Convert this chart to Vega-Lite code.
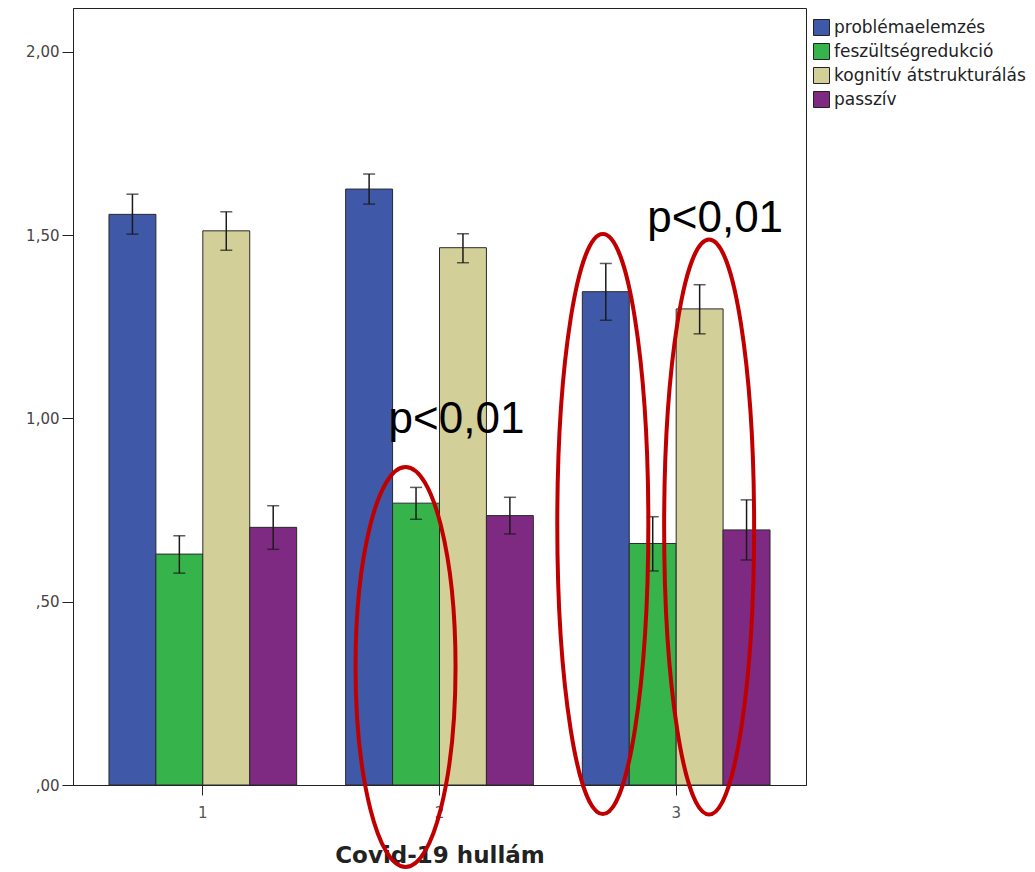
{
  "$schema": "https://vega.github.io/schema/vega-lite/v6.json",
  "width": 733,
  "height": 777,
  "autosize": {"type": "none"},
  "padding": {"left": 73, "top": 8, "right": 229, "bottom": 87},
  "background": "white",
  "config": {
    "view": {"stroke": "#222", "strokeWidth": 1},
    "font": "DejaVu Sans"
  },
  "datasets": {
    "bars": [
      {"hullam": "1", "kat": "problémaelemzés", "atlag": 1.557, "lo": 1.503, "hi": 1.612},
      {"hullam": "1", "kat": "feszültségredukció", "atlag": 0.630, "lo": 0.578, "hi": 0.680},
      {"hullam": "1", "kat": "kognitív átstrukturálás", "atlag": 1.512, "lo": 1.459, "hi": 1.564},
      {"hullam": "1", "kat": "passzív", "atlag": 0.703, "lo": 0.643, "hi": 0.762},
      {"hullam": "2", "kat": "problémaelemzés", "atlag": 1.626, "lo": 1.585, "hi": 1.667},
      {"hullam": "2", "kat": "feszültségredukció", "atlag": 0.769, "lo": 0.725, "hi": 0.812},
      {"hullam": "2", "kat": "kognitív átstrukturálás", "atlag": 1.466, "lo": 1.425, "hi": 1.504},
      {"hullam": "2", "kat": "passzív", "atlag": 0.735, "lo": 0.685, "hi": 0.785},
      {"hullam": "3", "kat": "problémaelemzés", "atlag": 1.346, "lo": 1.268, "hi": 1.423},
      {"hullam": "3", "kat": "feszültségredukció", "atlag": 0.659, "lo": 0.584, "hi": 0.732},
      {"hullam": "3", "kat": "kognitív átstrukturálás", "atlag": 1.299, "lo": 1.231, "hi": 1.365},
      {"hullam": "3", "kat": "passzív", "atlag": 0.696, "lo": 0.614, "hi": 0.778}
    ],
    "ellipses": [
      {"id": "e2", "hullam": "2", "kat": "feszültségredukció", "kozep": 0.322},
      {"id": "e3", "hullam": "3", "kat": "problémaelemzés", "kozep": 0.712},
      {"id": "e4", "hullam": "3", "kat": "kognitív átstrukturálás", "kozep": 0.704}
    ],
    "labels": [
      {"id": "t1", "hullam": "2", "y": 0.960, "szoveg": "p<0,01"},
      {"id": "t2", "hullam": "3", "y": 1.509, "szoveg": "p<0,01"}
    ]
  },
  "encoding": {
    "x": {
      "field": "hullam",
      "type": "nominal",
      "scale": {"paddingInner": 0.207, "paddingOuter": 0.152},
      "axis": {
        "title": "Covid-19 hullám",
        "titleFont": "DejaVu Sans",
        "titleFontSize": 23,
        "titleFontWeight": "bold",
        "titleColor": "#222",
        "titlePadding": 24,
        "labelAngle": 0,
        "labelFontSize": 15,
        "labelColor": "#555",
        "labelPadding": 10,
        "tickSize": 10,
        "tickColor": "#222",
        "domainColor": "#222"
      }
    }
  },
  "layer": [
    {
      "data": {"name": "bars"},
      "mark": {"type": "bar", "stroke": "#2a2a2a", "strokeWidth": 1},
      "encoding": {
        "xOffset": {
          "field": "kat",
          "type": "nominal",
          "scale": {"domain": ["problémaelemzés", "feszültségredukció", "kognitív átstrukturálás", "passzív"], "paddingInner": 0, "paddingOuter": 0}
        },
        "y": {
          "field": "atlag",
          "type": "quantitative",
          "scale": {"domain": [0, 2.12], "nice": false},
          "axis": {
            "title": null,
            "values": [0, 0.5, 1, 1.5, 2],
            "labelExpr": "datum.value < 1 ? ',' + substring(format(datum.value, '.2f'), 2) : replace(format(datum.value, '.2f'), '.', ',')",
            "labelFontSize": 15,
            "labelColor": "#444",
            "labelPadding": 3,
            "tickSize": 11,
            "tickColor": "#222",
            "domainColor": "#222",
            "grid": false
          }
        },
        "color": {
          "field": "kat",
          "type": "nominal",
          "scale": {
            "domain": ["problémaelemzés", "feszültségredukció", "kognitív átstrukturálás", "passzív"],
            "range": ["#3F58A8", "#36B44B", "#D3CF99", "#7E2A82"]
          },
          "legend": {
            "title": null,
            "orient": "none",
            "legendX": 740,
            "legendY": 11,
            "symbolType": "square",
            "symbolSize": 256,
            "symbolStrokeColor": "#222",
            "symbolStrokeWidth": 1,
            "symbolOpacity": 1,
            "labelFontSize": 17,
            "labelColor": "#222",
            "labelOffset": 4,
            "labelLimit": 400,
            "rowPadding": 3,
            "padding": 0
          }
        }
      }
    },
    {
      "data": {"name": "bars"},
      "mark": {"type": "rule", "color": "#1a1a1a", "strokeWidth": 1.5},
      "encoding": {
        "xOffset": {"field": "kat", "type": "nominal"},
        "y": {"field": "lo", "type": "quantitative"},
        "y2": {"field": "hi"}
      }
    },
    {
      "data": {"name": "bars"},
      "mark": {"type": "tick", "color": "#1a1a1a", "size": 12, "thickness": 1.5},
      "encoding": {
        "xOffset": {"field": "kat", "type": "nominal"},
        "y": {"field": "lo", "type": "quantitative"}
      }
    },
    {
      "data": {"name": "bars"},
      "mark": {"type": "tick", "color": "#1a1a1a", "size": 12, "thickness": 1.5},
      "encoding": {
        "xOffset": {"field": "kat", "type": "nominal"},
        "y": {"field": "hi", "type": "quantitative"}
      }
    },
    {
      "data": {"name": "ellipses"},
      "transform": [{"filter": "datum.id === 'e2'"}],
      "mark": {
        "type": "point",
        "filled": false,
        "stroke": "#C00000",
        "strokeWidth": 4,
        "opacity": 1,
        "size": 160000,
        "shape": "M-0.0525,-1 C0.0855,-1 0.1975,-0.5523 0.1975,0 C0.1975,0.5523 0.0855,1 -0.0525,1 C-0.1905,1 -0.3025,0.5523 -0.3025,0 C-0.3025,-0.5523 -0.1905,-1 -0.0525,-1 Z"
      },
      "encoding": {
        "xOffset": {"field": "kat", "type": "nominal"},
        "y": {"field": "kozep", "type": "quantitative"}
      }
    },
    {
      "data": {"name": "ellipses"},
      "transform": [{"filter": "datum.id === 'e3'"}],
      "mark": {
        "type": "point",
        "filled": false,
        "stroke": "#C00000",
        "strokeWidth": 4,
        "opacity": 1,
        "size": 336400,
        "shape": "M-0.0103,-1 C0.0764,-1 0.1467,-0.5523 0.1467,0 C0.1467,0.5523 0.0764,1 -0.0103,1 C-0.097,1 -0.1673,0.5523 -0.1673,0 C-0.1673,-0.5523 -0.097,-1 -0.0103,-1 Z"
      },
      "encoding": {
        "xOffset": {"field": "kat", "type": "nominal"},
        "y": {"field": "kozep", "type": "quantitative"}
      }
    },
    {
      "data": {"name": "ellipses"},
      "transform": [{"filter": "datum.id === 'e4'"}],
      "mark": {
        "type": "point",
        "filled": false,
        "stroke": "#C00000",
        "strokeWidth": 4,
        "opacity": 1,
        "size": 330625,
        "shape": "M0.033,-1 C0.1194,-1 0.1895,-0.5523 0.1895,0 C0.1895,0.5523 0.1194,1 0.033,1 C-0.0534,1 -0.1235,0.5523 -0.1235,0 C-0.1235,-0.5523 -0.0534,-1 0.033,-1 Z"
      },
      "encoding": {
        "xOffset": {"field": "kat", "type": "nominal"},
        "y": {"field": "kozep", "type": "quantitative"}
      }
    },
    {
      "data": {"name": "labels"},
      "transform": [{"filter": "datum.id === 't1'"}],
      "mark": {"type": "text", "font": "Liberation Sans", "fontSize": 44, "color": "#000", "baseline": "alphabetic", "align": "center", "dx": 17},
      "encoding": {
        "y": {"field": "y", "type": "quantitative"},
        "text": {"field": "szoveg"}
      }
    },
    {
      "data": {"name": "labels"},
      "transform": [{"filter": "datum.id === 't2'"}],
      "mark": {"type": "text", "font": "Liberation Sans", "fontSize": 44, "color": "#000", "baseline": "alphabetic", "align": "center", "dx": 39},
      "encoding": {
        "y": {"field": "y", "type": "quantitative"},
        "text": {"field": "szoveg"}
      }
    }
  ]
}
